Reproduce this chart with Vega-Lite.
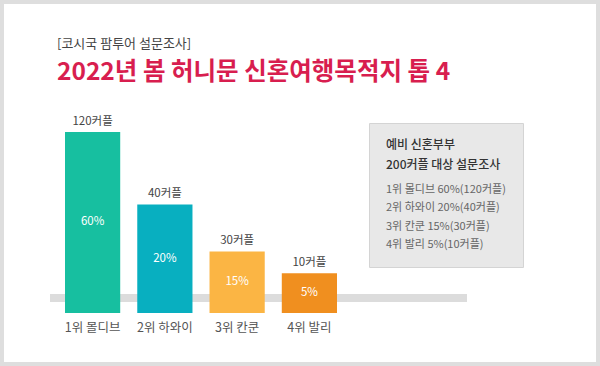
{
  "$schema": "https://vega.github.io/schema/vega-lite/v6.json",
  "width": 592,
  "height": 358,
  "autosize": {"type": "none"},
  "padding": 4,
  "background": "#dedede",
  "config": {
    "view": {"fill": "white", "stroke": null},
    "font": "Noto Sans CJK KR"
  },
  "title": {
    "text": "[코시국 팜투어 설문조사]",
    "subtitle": "2022년 봄 허니문 신혼여행목적지 톱 4",
    "anchor": "start",
    "frame": "group",
    "offset": -80,
    "dx": 53,
    "font": "Noto Sans CJK KR",
    "fontSize": 13,
    "fontWeight": "normal",
    "color": "#444444",
    "subtitleFont": "Noto Sans CJK KR",
    "subtitleFontSize": 24.5,
    "subtitleFontWeight": "bold",
    "subtitleColor": "#d81e4f",
    "subtitlePadding": 10
  },
  "data": {
    "values": [
      {"place": "1위 몰디브", "couples": "120커플", "percent": "60%", "level": 100, "summary": "1위 몰디브 60%(120커플)"},
      {"place": "2위 하와이", "couples": "40커플", "percent": "20%", "level": 60, "summary": "2위 하와이 20%(40커플)"},
      {"place": "3위 칸쿤", "couples": "30커플", "percent": "15%", "level": 34, "summary": "3위 칸쿤 15%(30커플)"},
      {"place": "4위 발리", "couples": "10커플", "percent": "5%", "level": 22, "summary": "4위 발리 5%(10커플)"}
    ]
  },
  "resolve": {"scale": {"y": "independent"}},
  "layer": [
    {
      "mark": {"type": "rule", "color": "#dcdcdc", "strokeWidth": 8, "xOffset": -42.5, "x2Offset": 157.5},
      "encoding": {
        "x": {"datum": "1위 몰디브", "type": "nominal", "axis": null,
              "scale": {"domain": ["1위 몰디브", "2위 하와이", "3위 칸쿤", "4위 발리"], "range": [61, 333], "paddingInner": 0.236, "paddingOuter": 0}},
        "x2": {"datum": "4위 발리"},
        "y": {"datum": 8.3, "type": "quantitative", "axis": null,
              "scale": {"domain": [-27.07, 170.7], "nice": false, "zero": false}}
      }
    },
    {
      "mark": {"type": "bar"},
      "encoding": {
        "x": {"field": "place", "type": "nominal", "axis": null, "sort": null,
              "scale": {"domain": ["1위 몰디브", "2위 하와이", "3위 칸쿤", "4위 발리"], "range": [61, 333], "paddingInner": 0.236, "paddingOuter": 0}},
        "y": {"field": "level", "type": "quantitative", "axis": null,
              "scale": {"domain": [-27.07, 170.7], "nice": false, "zero": false}},
        "color": {
          "field": "summary", "type": "nominal", "sort": null,
          "scale": {
            "domain": ["1위 몰디브 60%(120커플)", "2위 하와이 20%(40커플)", "3위 칸쿤 15%(30커플)", "4위 발리 5%(10커플)"],
            "range": ["#17bfa0", "#08afc0", "#fbb544", "#f08f1f"]
          },
          "legend": {
            "orient": "none",
            "legendX": 365,
            "legendY": 119,
            "title": ["예비 신혼부부", "200커플 대상 설문조사"],
            "titleFont": "Noto Sans CJK KR",
            "titleFontSize": 12,
            "titleFontWeight": 500,
            "titleColor": "#333333",
            "titleLineHeight": 20,
            "titlePadding": 12,
            "titleLimit": 300,
            "labelFont": "Noto Sans CJK KR",
            "labelFontSize": 11,
            "labelColor": "#666666",
            "labelLimit": 300,
            "labelOffset": -11,
            "symbolSize": 0,
            "symbolOpacity": 0,
            "symbolStrokeWidth": 0,
            "rowPadding": 6.5,
            "padding": 17,
            "fillColor": "#e8e8e8",
            "strokeColor": "#d4d4d4"
          }
        }
      }
    },
    {
      "mark": {"type": "text", "baseline": "bottom", "dy": -5, "fontSize": 11.5, "color": "#444444"},
      "encoding": {
        "x": {"field": "place", "type": "nominal", "axis": null, "sort": null,
              "scale": {"domain": ["1위 몰디브", "2위 하와이", "3위 칸쿤", "4위 발리"], "range": [61, 333], "paddingInner": 0.236, "paddingOuter": 0}},
        "y": {"field": "level", "type": "quantitative", "axis": null,
              "scale": {"domain": [-27.07, 170.7], "nice": false, "zero": false}},
        "text": {"field": "couples"}
      }
    },
    {
      "mark": {"type": "text", "baseline": "middle", "fontSize": 12.5, "color": "#555555"},
      "encoding": {
        "x": {"field": "place", "type": "nominal", "axis": null, "sort": null,
              "scale": {"domain": ["1위 몰디브", "2위 하와이", "3위 칸쿤", "4위 발리"], "range": [61, 333], "paddingInner": 0.236, "paddingOuter": 0}},
        "y": {"datum": -8.3, "type": "quantitative", "axis": null,
              "scale": {"domain": [-27.07, 170.7], "nice": false, "zero": false}},
        "text": {"field": "place"}
      }
    },
    {
      "mark": {"type": "text", "baseline": "middle", "fontSize": 11.5, "fontWeight": 400, "color": "white"},
      "encoding": {
        "x": {"field": "place", "type": "nominal", "axis": null, "sort": null,
              "scale": {"domain": ["1위 몰디브", "2위 하와이", "3위 칸쿤", "4위 발리"], "range": [61, 333], "paddingInner": 0.236, "paddingOuter": 0}},
        "y": {"field": "level", "type": "quantitative", "axis": null,
              "scale": {"domain": [-54.14, 341.4], "nice": false, "zero": false}},
        "text": {"field": "percent"}
      }
    }
  ]
}
